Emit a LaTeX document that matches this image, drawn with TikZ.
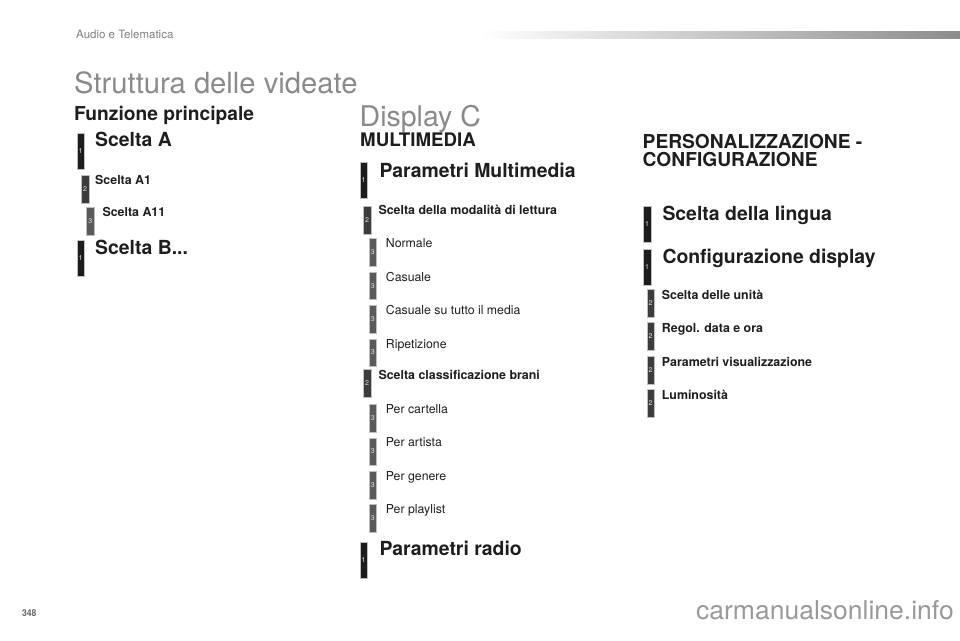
\documentclass[tikz,border=0pt]{standalone}
\usepackage{fontspec}
\setmainfont{TeX Gyre Heros}
\usepackage{tikz}
\usetikzlibrary{positioning}
\newcommand{\fsz}[1]{\fontsize{#1}{#1}\selectfont}
\definecolor{barA}{HTML}{1C1C1C}
\definecolor{barB}{HTML}{3C3C3C}
\definecolor{barC}{HTML}{5A5A5A}
\definecolor{ttlgray}{HTML}{8A8A8A}
\definecolor{txtdark}{HTML}{1E1E1E}

\begin{document}
\begin{tikzpicture}[x=1pt,y=-1pt,
	bar/.style={anchor=north west,inner sep=0,minimum width=7.5pt,draw=black!25,line width=.4pt,
		text=white!90!black,font=\fsz{7}},
	lvA/.style={bar,fill=barA,minimum height=36pt},
	lvB/.style={bar,fill=barB,minimum height=28pt},
	lvC/.style={bar,fill=barC,minimum height=27.5pt},
	hA/.style={anchor=base west,inner sep=0,text=txtdark,font=\fsz{19.4}\bfseries},
	hB/.style={anchor=base west,inner sep=0,text=txtdark,font=\fsz{12.4}\bfseries},
	hC/.style={anchor=base west,inner sep=0,text=txtdark,font=\fsz{12.3}},
	sec/.style={anchor=base west,inner sep=0,text=txtdark,font=\fsz{19.2}\bfseries,align=left},
	big/.style={anchor=base west,inner sep=0,text=ttlgray,font=\fsz{29.2}}]
	\useasboundingbox (0,0) rectangle (960,640);

	% header
	\node[anchor=base west,inner sep=0,text=gray,font=\fsz{11.5}] (hdr) at (76,38.5) {Audio e Telematica};
	\shade[left color=white,right color=black!45] (480,31.7) rectangle (960,38.3);
	\node[big] (ttl) at (74,93.3) {Struttura delle videate};
	\node[sec] (fun) at (74,120) {Funzione principale};

	% left column
	\node[lvA] (a1) at (76.5,132.7) {1};
	\node[hA] (ta1) at (95,146.7) {Scelta A};
	\node[lvB] (a2) at (81,174.7) {2};
	\node[hB] (ta2) at (95,184.3) {Scelta A1};
	\node[lvC] (a3) at (86.3,207.3) {3};
	\node[hB] (ta3) at (102.3,216) {Scelta A11};
	\node[lvA] (b1) at (76.5,240) {1};
	\node[hA] (tb1) at (95,254) {Scelta B...};

	% middle column
	\node[big,font=\fsz{28.5}] (disp) at (359.5,126) {Display C};
	\node[sec,font=\fsz{18.7}\bfseries] (mm) at (360,146.7) {MULTIMEDIA};
	\node[lvA] (m1) at (359.5,162.3) {1};
	\node[hA] (tm1) at (379.3,177.3) {Parametri Multimedia};
	\node[lvB] (m2) at (363.2,206) {2};
	\node[hB] (tm2) at (378.3,214.3) {Scelta della modalità di lettura};
	\node[lvC] (m3) at (368.8,238.3) {3};
	\node[hC] (tm3) at (385.7,247.7) {Normale};
	\node[lvC] (m4) at (368.8,271.8) {3};
	\node[hC] (tm4) at (385.7,281.2) {Casuale};
	\node[lvC] (m5) at (368.8,305.2) {3};
	\node[hC] (tm5) at (385.7,314.6) {Casuale su tutto il media};
	\node[lvC] (m6) at (368.8,338.6) {3};
	\node[hC] (tm6) at (385.7,348) {Ripetizione};
	\node[lvB] (m7) at (363.2,369) {2};
	\node[hB] (tm7) at (378.3,379) {Scelta classificazione brani};
	\node[lvC] (m8) at (368.8,404) {3};
	\node[hC] (tm8) at (385.7,413.4) {Per cartella};
	\node[lvC] (m9) at (368.8,437.5) {3};
	\node[hC] (tm9) at (385.7,446.9) {Per artista};
	\node[lvC] (m10) at (368.8,471) {3};
	\node[hC] (tm10) at (385.7,480.4) {Per genere};
	\node[lvC] (m11) at (368.8,504.3) {3};
	\node[hC] (tm11) at (385.7,513.7) {Per playlist};
	\node[lvA] (r1) at (359.5,541.7) {1};
	\node[hA] (tr1) at (379.3,555.7) {Parametri radio};

	% right column
	\node[sec] (pers) at (642.5,148.3) {PERSONALIZZAZIONE -};
	\node[sec] (conf) at (642.5,166.3) {CONFIGURAZIONE};
	\node[lvA] (p1) at (643.2,206) {1};
	\node[hA] (tp1) at (662.3,220) {Scelta della lingua};
	\node[lvA] (p2) at (643.2,249.3) {1};
	\node[hA] (tp2) at (662.3,263.3) {Configurazione display};
	\node[lvB] (p3) at (646.5,289) {2};
	\node[hB] (tp3) at (661.7,299.3) {Scelta delle unità};
	\node[lvB] (p4) at (646.5,322.3) {2};
	\node[hB] (tp4) at (661.7,332.6) {Regol. data e ora};
	\node[lvB] (p5) at (646.5,355.7) {2};
	\node[hB] (tp5) at (661.7,366) {Parametri visualizzazione};
	\node[lvB] (p6) at (646.5,389) {2};
	\node[hB] (tp6) at (661.7,399.3) {Luminosità};

	% footer
	\node[anchor=base west,inner sep=0,text=black!60,font=\fsz{9.5}\bfseries,xscale=.9] (pg) at (22,616) {348};
	\node[anchor=base east,inner sep=0,text=black!40,font=\fsz{26},xscale=1.02] (wm) at (954,619) {carmanualsonline.info};
\end{tikzpicture}
\end{document}
